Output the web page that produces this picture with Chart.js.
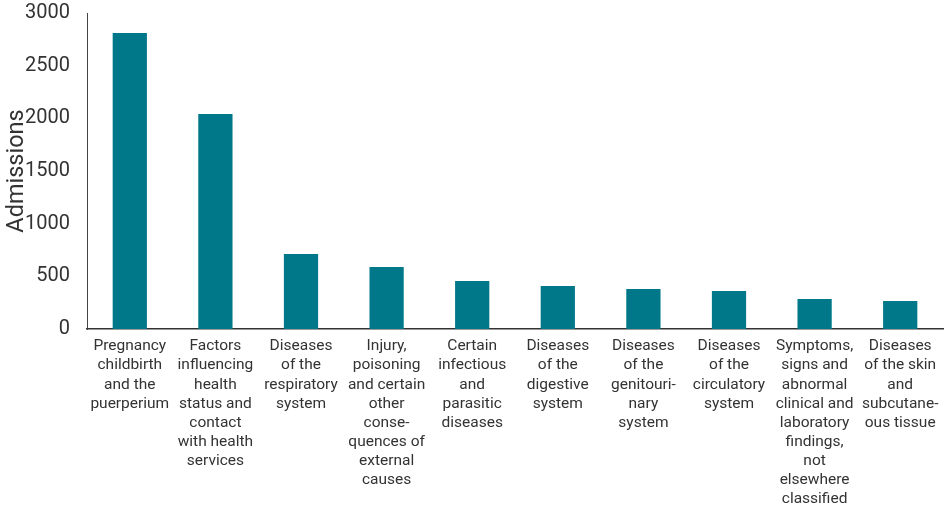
<!DOCTYPE html>
<html>
<head>
<meta charset="utf-8">
<script src="https://cdn.jsdelivr.net/npm/chart.js@4.4.1/dist/chart.umd.min.js"></script>
<style>
html,body{margin:0;padding:0;background:#fff;}
#wrap{width:949px;height:509px;}
</style>
</head>
<body>
<div id="wrap"><canvas id="c" width="949" height="509"></canvas></div>
<script>
const categories = [
  ["Pregnancy","childbirth","and the","puerperium"],
  ["Factors","influencing","health","status and","contact","with health","services"],
  ["Diseases","of the","respiratory","system"],
  ["Injury,","poisoning","and certain","other","conse-","quences of","external","causes"],
  ["Certain","infectious","and","parasitic","diseases"],
  ["Diseases","of the","digestive","system"],
  ["Diseases","of the","genitouri-","nary","system"],
  ["Diseases","of the","circulatory","system"],
  ["Symptoms,","signs and","abnormal","clinical and","laboratory","findings,","not","elsewhere","classified"],
  ["Diseases","of the skin","and","subcutane-","ous tissue"]
];
const admissions = [2810, 2040, 712, 589, 456, 408, 380, 361, 285, 266];
const yTicks = [0, 500, 1000, 1500, 2000, 2500, 3000];

new Chart(document.getElementById('c'), {
  type: 'bar',
  data: {
    labels: categories,
    datasets: [{
      data: admissions,
      backgroundColor: '#00788a',
      barPercentage: 0.4,
      categoryPercentage: 1.0
    }]
  },
  options: {
    responsive: false,
    animation: false,
    layout: { padding: { top: 13, right: 6, left: 3, bottom: 0 } },
    plugins: { legend: { display: false }, tooltip: { enabled: false } },
    scales: {
      x: {
        grid: { display: false },
        border: { display: true, color: '#333', width: 1.5 },
        ticks: {
          color: '#333',
          font: { family: 'Roboto', size: 15.5, lineHeight: 1.23 },
          maxRotation: 0,
          autoSkip: false,
          padding: 0
        },
        afterFit: (s) => { s.height = 180; s.paddingLeft = 0; s.paddingRight = 0; }
      },
      y: {
        min: 0, max: 3000,
        afterBuildTicks: (s) => { s.ticks = yTicks.map(v => ({ value: v })); },
        grid: { display: false },
        border: { display: true, color: '#444', width: 1 },
        ticks: {
          color: '#333',
          font: { family: 'Roboto', size: 20 },
          padding: 9,
          callback: (v) => String(v)
        },
        title: {
          display: true,
          text: 'Admissions',
          color: '#333',
          font: { family: 'Roboto', size: 23.5 },
          padding: 0
        },
        afterFit: (s) => { s.width = 84; s.paddingTop = 0; s.paddingBottom = 0; }
      }
    }
  }
});
</script>
</body>
</html>
